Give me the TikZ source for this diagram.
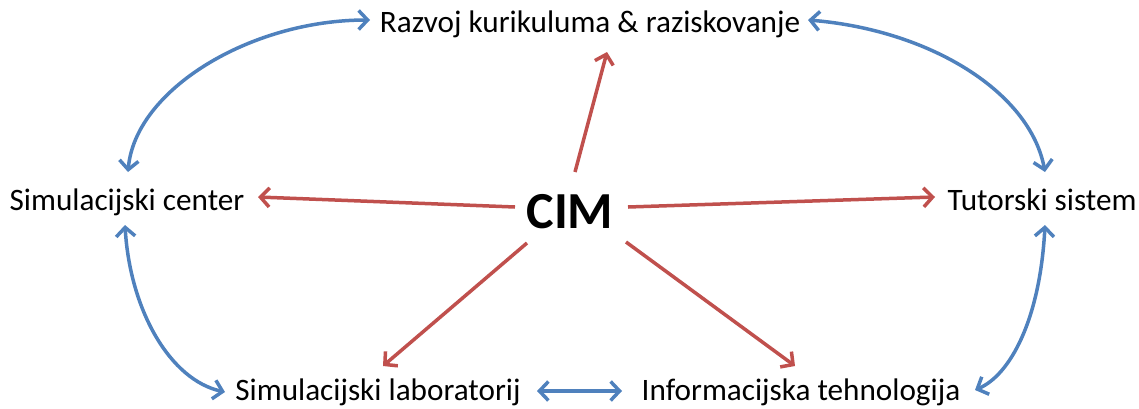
\documentclass[tikz,border=0pt]{standalone}
\usepackage{fontspec}
\setmainfont{Carlito}
\usetikzlibrary{arrows.meta}
\definecolor{cred}{HTML}{C0504D}
\definecolor{cblue}{HTML}{4F81BD}
\begin{document}
\begin{tikzpicture}[x=1pt,y=-1pt,
 lbl/.style={font=\fontsize{31.2}{36}\selectfont, inner sep=0pt, anchor=base},
 barb/.tip={Straight Barb[length=9pt,width=19pt,line width=3.5pt]},
 redarrow/.style={draw=cred, line width=3.5pt, -barb},
 bluearrow/.style={draw=cblue, line width=3.5pt, barb-barb}]
\useasboundingbox (0,0) rectangle (1139,408);
\node[lbl] (raz) at (590,32) {Razvoj kurikuluma \& raziskovanje};
\node[lbl] (simc) at (127,210) {Simulacijski center};
\node[lbl,font=\bfseries\fontsize{52}{60}\selectfont] (cim) at (570,228) {CIM};
\node[lbl] (tut) at (1042,210) {Tutorski sistem};
\node[lbl] (siml) at (378,400) {Simulacijski laboratorij};
\node[lbl] (inf) at (801,400) {Informacijska tehnologija};
% red
\draw[redarrow] ([shift={(5,-56)}]cim.base) -- ([shift={(17,20)}]raz.base);
\draw[redarrow] ([shift={(-55,-21)}]cim.base) -- ([shift={(131,-13)}]simc.base);
\draw[redarrow] ([shift={(58,-21)}]cim.base) -- ([shift={(-107,-13)}]tut.base);
\draw[redarrow] ([shift={(-43,15)}]cim.base) -- ([shift={(5,-34)}]siml.base);
\draw[redarrow] ([shift={(56,14)}]cim.base) -- ([shift={(-6,-34)}]inf.base);
% blue
\draw[bluearrow] ([shift={(1,-38)}]simc.base) .. controls +(7,-82) and +(-120,0) .. ([shift={(-220,-12)}]raz.base);
\draw[bluearrow] ([shift={(218,-12)}]raz.base) .. controls +(122,10) and +(-15,-80) .. ([shift={(3,-38)}]tut.base);
\draw[bluearrow] ([shift={(-2,15)}]simc.base) .. controls +(5,85) and +(-55,-12) .. ([shift={(-153,-8)}]siml.base);
\draw[bluearrow] ([shift={(3,15)}]tut.base) .. controls +(-5,95) and +(35,-15) .. ([shift={(174,-10)}]inf.base);
\draw[bluearrow] ([shift={(159,-9)}]siml.base) -- ([shift={(-179,-9)}]inf.base);
\end{tikzpicture}
\end{document}
